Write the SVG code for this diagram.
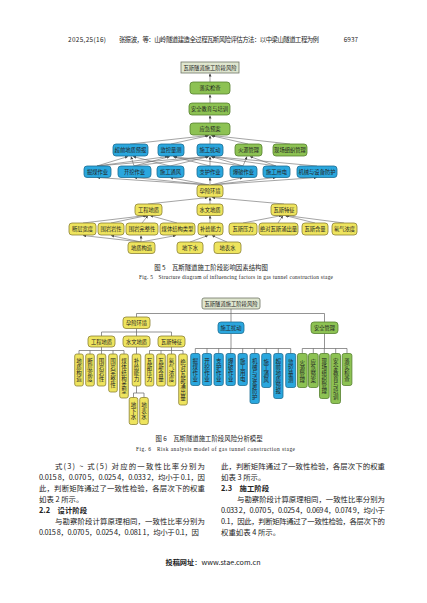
<svg xmlns="http://www.w3.org/2000/svg" width="427" height="603" viewBox="0 0 427 603">
<style>
text{font-family:"Noto Sans CJK SC","Liberation Serif",serif;fill:#222}
.n text{font-size:5.3px;text-anchor:middle;dominant-baseline:central}
.v text{font-size:5.5px;letter-spacing:0.5px}
.b{fill:#2aa7de;stroke:#1d6d92;stroke-width:0.8}
.g{fill:#8dc253;stroke:#56802e;stroke-width:0.8}
.y{fill:#eee45e;stroke:#8c8235;stroke-width:0.8}
.t{fill:#dfe6cf;stroke:#6f7566;stroke-width:0.8}
.e line{stroke:#666;stroke-width:0.6;marker-end:url(#a)}
.tr line{stroke:#666;stroke-width:0.7}
.body{font-size:7.4px;fill:#333}
.hd{font-size:6.4px}
.cap{font-size:6.4px}
.en{font-family:"Liberation Serif",serif;font-size:5.4px}
</style>
<defs>
<marker id="a" viewBox="0 0 6 6" refX="6" refY="3" markerWidth="3" markerHeight="3" orient="auto" markerUnits="userSpaceOnUse"><path d="M0,0L6,3L0,6z" fill="#444"/></marker>
</defs>
<rect width="427" height="603" fill="#fff"/>

<!-- header -->
<g id="header" class="hd">
<text x="68" y="42" textLength="38" font-family="Liberation Serif, serif">2025,25(16)</text>
<text x="119" y="42" textLength="200">张振波，等：山岭隧道建造全过程瓦斯风险评估方法：以中梁山隧道工程为例</text>
<text x="358" y="42" text-anchor="end" font-family="Liberation Serif, serif">6937</text>
</g>

<!-- FIGURE 5 connectors -->
<g id="fig5-edges" class="e">
<line x1="210" y1="82" x2="210" y2="73.5"/>
<line x1="210" y1="103" x2="210" y2="94.5"/>
<line x1="210" y1="123" x2="210" y2="115.5"/>
<line x1="130" y1="144" x2="208" y2="135.5"/>
<line x1="171" y1="144" x2="209" y2="135.5"/>
<line x1="210" y1="144" x2="210" y2="135.5"/>
<line x1="248" y1="144" x2="211" y2="135.5"/>
<line x1="290" y1="144" x2="212" y2="135.5"/>
<line x1="97" y1="166" x2="208" y2="156.5"/>
<line x1="134" y1="166" x2="209" y2="156.5"/>
<line x1="170" y1="166" x2="209" y2="156.5"/>
<line x1="210" y1="166" x2="210" y2="156.5"/>
<line x1="243" y1="166" x2="211" y2="156.5"/>
<line x1="276" y1="166" x2="211" y2="156.5"/>
<line x1="317" y1="166" x2="212" y2="156.5"/>
<line x1="97" y1="166" x2="128" y2="156.5"/>
<line x1="134" y1="166" x2="131" y2="156.5"/>
<line x1="170" y1="166" x2="133" y2="156.5"/>
<line x1="97" y1="166" x2="168" y2="156.5"/>
<line x1="134" y1="166" x2="170" y2="156.5"/>
<line x1="210" y1="166" x2="173" y2="156.5"/>
<line x1="243" y1="166" x2="174" y2="156.5"/>
<line x1="243" y1="166" x2="247" y2="156.5"/>
<line x1="276" y1="166" x2="250" y2="156.5"/>
<line x1="209" y1="185" x2="97" y2="177.5"/>
<line x1="209" y1="185" x2="134" y2="177.5"/>
<line x1="209.5" y1="185" x2="170" y2="177.5"/>
<line x1="210" y1="185" x2="210" y2="177.5"/>
<line x1="210.5" y1="185" x2="243" y2="177.5"/>
<line x1="211" y1="185" x2="276" y2="177.5"/>
<line x1="211" y1="185" x2="317" y2="177.5"/>
<line x1="148" y1="204" x2="208" y2="197.5"/>
<line x1="210" y1="204" x2="210" y2="197.5"/>
<line x1="284" y1="204" x2="212" y2="197.5"/>
<line x1="83" y1="223" x2="146" y2="215.5"/>
<line x1="111" y1="223" x2="147" y2="215.5"/>
<line x1="142" y1="223" x2="148" y2="215.5"/>
<line x1="177" y1="223" x2="150" y2="215.5"/>
<line x1="210" y1="223" x2="210" y2="215.5"/>
<line x1="243" y1="223" x2="282" y2="215.5"/>
<line x1="278" y1="223" x2="283" y2="215.5"/>
<line x1="315" y1="223" x2="285" y2="215.5"/>
<line x1="344" y1="223" x2="286" y2="215.5"/>
<line x1="141" y1="242" x2="83" y2="235.5"/>
<line x1="141" y1="242" x2="111" y2="235.5"/>
<line x1="141" y1="242" x2="141" y2="235.5"/>
<line x1="141" y1="242" x2="176" y2="235.5"/>
<line x1="190" y1="242" x2="208" y2="235.5"/>
<line x1="227" y1="242" x2="212" y2="235.5"/>
</g>

<!-- FIGURE 5 nodes -->
<g id="f5-root" class="n"><rect class="t" x="181" y="62" width="58" height="11"/><text x="210" y="67.5">瓦斯隧道施工阶段风险</text></g>
<g id="f5-check" class="n"><rect class="g" x="190" y="82" width="40" height="12" rx="3"/><text x="210" y="88">落实检查</text></g>
<g id="f5-edu" class="n"><rect class="g" x="189" y="103" width="41" height="12" rx="3"/><text x="209.5" y="109">安全教育与培训</text></g>
<g id="f5-plan" class="n"><rect class="g" x="190" y="123" width="40" height="12" rx="3"/><text x="210" y="129">应急预案</text></g>

<g id="f5-forecast" class="n"><rect class="b" x="113" y="144" width="35" height="12" rx="3"/><text x="130.5" y="150">超前地质预报</text></g>
<g id="f5-monitor" class="n"><rect class="b" x="158" y="144" width="26" height="12" rx="3"/><text x="171" y="150">监控量测</text></g>
<g id="f5-disturb" class="n"><rect class="b" x="197" y="144" width="26" height="12" rx="3"/><text x="210" y="150">施工扰动</text></g>
<g id="f5-fire" class="n"><rect class="g" x="235" y="144" width="27" height="12" rx="3"/><text x="248.5" y="150">火源管理</text></g>
<g id="f5-site" class="n"><rect class="g" x="273" y="144" width="34" height="12" rx="3"/><text x="290" y="150">现场组织管理</text></g>

<g id="f5-coal" class="n"><rect class="b" x="84" y="166" width="27" height="11.5" rx="3"/><text x="97.5" y="171.8">掘煤作业</text></g>
<g id="f5-dig" class="n"><rect class="b" x="118" y="166" width="33" height="11.5" rx="3"/><text x="134.5" y="171.8">开挖作业</text></g>
<g id="f5-vent" class="n"><rect class="b" x="157" y="166" width="27" height="11.5" rx="3"/><text x="170.5" y="171.8">施工通风</text></g>
<g id="f5-support" class="n"><rect class="b" x="197" y="166" width="26" height="11.5" rx="3"/><text x="210" y="171.8">支护作业</text></g>
<g id="f5-blast" class="n"><rect class="b" x="230" y="166" width="27" height="11.5" rx="3"/><text x="243.5" y="171.8">爆破作业</text></g>
<g id="f5-power" class="n"><rect class="b" x="263" y="166" width="27" height="11.5" rx="3"/><text x="276.5" y="171.8">施工用电</text></g>
<g id="f5-mech" class="n"><rect class="b" x="297" y="166" width="40" height="11.5" rx="3"/><text x="317" y="171.8">机械与设备防护</text></g>

<g id="f5-env" class="n"><rect class="y" x="197" y="185" width="26" height="12" rx="3"/><text x="210" y="191">孕险环境</text></g>

<g id="f5-geo" class="n"><rect class="y" x="135" y="204" width="27" height="11.5" rx="3"/><text x="148.5" y="209.8">工程地质</text></g>
<g id="f5-hydro" class="n"><rect class="y" x="197" y="204" width="26" height="11.5" rx="3"/><text x="210" y="209.8">水文地质</text></g>
<g id="f5-gas" class="n"><rect class="y" x="271" y="204" width="26" height="11.5" rx="3"/><text x="284" y="209.8">瓦斯特征</text></g>

<g id="f5-fault" class="n"><rect class="y" x="69" y="223" width="27" height="12" rx="3"/><text x="82.5" y="229">断层宽度</text></g>
<g id="f5-litho" class="n"><rect class="y" x="98" y="223" width="26" height="12" rx="3"/><text x="111" y="229">围岩岩性</text></g>
<g id="f5-integ" class="n"><rect class="y" x="126" y="223" width="32" height="12" rx="3"/><text x="142" y="229">围岩完整性</text></g>
<g id="f5-coaltype" class="n"><rect class="y" x="160" y="223" width="35" height="12" rx="3"/><text x="177.5" y="229">煤体结构类型</text></g>
<g id="f5-recharge" class="n"><rect class="y" x="198" y="223" width="25" height="12" rx="3"/><text x="210.5" y="229">补给能力</text></g>
<g id="f5-press" class="n"><rect class="y" x="229" y="223" width="28" height="12" rx="3"/><text x="243" y="229">瓦斯压力</text></g>
<g id="f5-emis" class="n"><rect class="y" x="259" y="223" width="39" height="12" rx="3"/><text x="278.5" y="229">绝对瓦斯涌出量</text></g>
<g id="f5-content" class="n"><rect class="y" x="302" y="223" width="26" height="12" rx="3"/><text x="315" y="229">瓦斯含量</text></g>
<g id="f5-radon" class="n"><rect class="y" x="332" y="223" width="25" height="12" rx="3"/><text x="344.5" y="229">氡气浓度</text></g>

<g id="f5-struct" class="n"><rect class="y" x="128" y="242" width="27" height="11.5" rx="3"/><text x="141.5" y="247.8">地质构造</text></g>
<g id="f5-ground" class="n"><rect class="y" x="177" y="242" width="26" height="11.5" rx="3"/><text x="190" y="247.8">地下水</text></g>
<g id="f5-surf" class="n"><rect class="y" x="214" y="242" width="27" height="11.5" rx="3"/><text x="227.5" y="247.8">地表水</text></g>

<g id="cap5">
<text class="cap" x="211" y="270" text-anchor="middle">图 5　瓦斯隧道施工阶段影响因素结构图</text>
<text class="en" x="139" y="279" textLength="194">Fig. 5　Structure diagram of influencing factors in gas tunnel construction stage</text>
</g>

<!-- FIGURE 6 connectors -->
<g id="fig6-edges" class="tr">
<line x1="231" y1="309" x2="231" y2="313.5"/>
<line x1="136.5" y1="313.5" x2="324.5" y2="313.5"/>
<line x1="136.5" y1="313.5" x2="136.5" y2="317"/>
<line x1="231" y1="313.5" x2="231" y2="322"/>
<line x1="324.5" y1="313.5" x2="324.5" y2="322"/>
<line x1="136.5" y1="328.5" x2="136.5" y2="332"/>
<line x1="101.5" y1="332" x2="171.5" y2="332"/>
<line x1="101.5" y1="332" x2="101.5" y2="336"/>
<line x1="136.5" y1="332" x2="136.5" y2="336"/>
<line x1="171.5" y1="332" x2="171.5" y2="336"/>
<line x1="101.5" y1="347" x2="101.5" y2="350.5"/>
<line x1="79" y1="350.5" x2="124" y2="350.5"/>
<line x1="79" y1="350.5" x2="79" y2="354"/>
<line x1="90" y1="350.5" x2="90" y2="354"/>
<line x1="101.5" y1="350.5" x2="101.5" y2="354"/>
<line x1="113" y1="350.5" x2="113" y2="354"/>
<line x1="124" y1="350.5" x2="124" y2="354"/>
<line x1="136.5" y1="347" x2="136.5" y2="354"/>
<line x1="136.5" y1="386" x2="136.5" y2="393"/>
<line x1="133.5" y1="393" x2="144" y2="393"/>
<line x1="133.5" y1="393" x2="133.5" y2="397.5"/>
<line x1="144" y1="393" x2="144" y2="397.5"/>
<line x1="171.5" y1="347" x2="171.5" y2="350.5"/>
<line x1="149.5" y1="350.5" x2="183" y2="350.5"/>
<line x1="149.5" y1="350.5" x2="149.5" y2="354"/>
<line x1="161" y1="350.5" x2="161" y2="354"/>
<line x1="171.5" y1="350.5" x2="171.5" y2="354"/>
<line x1="183" y1="350.5" x2="183" y2="354"/>
<line x1="231" y1="333.5" x2="231" y2="348.5"/>
<line x1="195.3" y1="348.5" x2="290.7" y2="348.5"/>
<line x1="195.3" y1="348.5" x2="195.3" y2="353.5"/>
<line x1="207" y1="348.5" x2="207" y2="353.5"/>
<line x1="218.7" y1="348.5" x2="218.7" y2="353.5"/>
<line x1="230.7" y1="348.5" x2="230.7" y2="353.5"/>
<line x1="242.7" y1="348.5" x2="242.7" y2="353.5"/>
<line x1="254.7" y1="348.5" x2="254.7" y2="353.5"/>
<line x1="266.3" y1="348.5" x2="266.3" y2="353.5"/>
<line x1="278.3" y1="348.5" x2="278.3" y2="353.5"/>
<line x1="290.7" y1="348.5" x2="290.7" y2="353.5"/>
<line x1="324.5" y1="333.5" x2="324.5" y2="348.5"/>
<line x1="302.3" y1="348.5" x2="347" y2="348.5"/>
<line x1="302.3" y1="348.5" x2="302.3" y2="353.5"/>
<line x1="313.3" y1="348.5" x2="313.3" y2="353.5"/>
<line x1="324.3" y1="348.5" x2="324.3" y2="353.5"/>
<line x1="335.7" y1="348.5" x2="335.7" y2="353.5"/>
<line x1="347" y1="348.5" x2="347" y2="353.5"/>
</g>

<!-- FIGURE 6 nodes -->
<g id="f6-root" class="n"><rect class="t" x="202" y="298" width="58" height="11" rx="2"/><text x="231" y="303.5">瓦斯隧道施工阶段风险</text></g>
<g id="f6-env" class="n"><rect class="y" x="123" y="317" width="27" height="11.5" rx="3"/><text x="136.5" y="322.8">孕险环境</text></g>
<g id="f6-disturb" class="n"><rect class="b" x="218" y="322" width="26" height="11.5" rx="3"/><text x="231" y="327.8">施工扰动</text></g>
<g id="f6-mgmt" class="n"><rect class="g" x="311" y="322" width="27" height="11.5" rx="3"/><text x="324.5" y="327.8">安全管理</text></g>
<g id="f6-geo" class="n"><rect class="y" x="88" y="336" width="27" height="11" rx="3"/><text x="101.5" y="341.5">工程地质</text></g>
<g id="f6-hydro" class="n"><rect class="y" x="123" y="336" width="27" height="11" rx="3"/><text x="136.5" y="341.5">水文地质</text></g>
<g id="f6-gas" class="n"><rect class="y" x="158" y="336" width="27" height="11" rx="3"/><text x="171.5" y="341.5">瓦斯特征</text></g>

<g class="v">
<g id="f6-struct"><rect class="y" x="74.7" y="354" width="8.6" height="32" rx="2"/><text transform="translate(76.25,363.1) rotate(90)" rotate="-90">地质构造</text></g>
<g id="f6-fault"><rect class="y" x="85.7" y="354" width="8.6" height="32" rx="2"/><text transform="translate(87.25,363.1) rotate(90)" rotate="-90">断层宽度</text></g>
<g id="f6-litho"><rect class="y" x="97.2" y="354" width="8.6" height="32" rx="2"/><text transform="translate(98.75,363.1) rotate(90)" rotate="-90">围岩岩性</text></g>
<g id="f6-integ"><rect class="y" x="108.7" y="354" width="8.6" height="38" rx="2"/><text transform="translate(110.25,363.1) rotate(90)" rotate="-90">围岩完整性</text></g>
<g id="f6-coaltype"><rect class="y" x="119.7" y="354" width="8.6" height="44" rx="2"/><text transform="translate(121.25,363.1) rotate(90)" rotate="-90">煤体结构类型</text></g>
<g id="f6-recharge"><rect class="y" x="132.2" y="354" width="8.6" height="32" rx="2"/><text transform="translate(133.75,363.1) rotate(90)" rotate="-90">补给能力</text></g>
<g id="f6-ground"><rect class="y" x="129.2" y="397.5" width="8.6" height="27" rx="2"/><text transform="translate(130.75,407.1) rotate(90)" rotate="-90">地下水</text></g>
<g id="f6-surf"><rect class="y" x="139.7" y="397.5" width="8.6" height="27" rx="2"/><text transform="translate(141.25,407.1) rotate(90)" rotate="-90">地表水</text></g>
<g id="f6-press"><rect class="y" x="145.2" y="354" width="8.6" height="32" rx="2"/><text transform="translate(146.75,363.1) rotate(90)" rotate="-90">瓦斯压力</text></g>
<g id="f6-content"><rect class="y" x="156.7" y="354" width="8.6" height="32" rx="2"/><text transform="translate(158.25,363.1) rotate(90)" rotate="-90">瓦斯含量</text></g>
<g id="f6-radon"><rect class="y" x="167.2" y="354" width="8.6" height="32" rx="2"/><text transform="translate(168.75,363.1) rotate(90)" rotate="-90">氡气浓度</text></g>
<g id="f6-emis"><rect class="y" x="178.7" y="354" width="8.6" height="51" rx="2"/><text transform="translate(180.25,363.6) rotate(90)" rotate="-90">绝对瓦斯涌出量</text></g>

<g id="f6-coal"><rect class="b" x="190.7" y="353.5" width="9.3" height="32" rx="2"/><text transform="translate(192.55,362.6) rotate(90)" rotate="-90">掘煤作业</text></g>
<g id="f6-dig"><rect class="b" x="202.3" y="353.5" width="9.3" height="32" rx="2"/><text transform="translate(204.25,362.6) rotate(90)" rotate="-90">开挖作业</text></g>
<g id="f6-support"><rect class="b" x="214" y="353.5" width="9.3" height="32" rx="2"/><text transform="translate(215.95,362.6) rotate(90)" rotate="-90">支护作业</text></g>
<g id="f6-blast"><rect class="b" x="226" y="353.5" width="9.3" height="32" rx="2"/><text transform="translate(227.95,362.6) rotate(90)" rotate="-90">爆破作业</text></g>
<g id="f6-power"><rect class="b" x="238" y="353.5" width="9.3" height="32" rx="2"/><text transform="translate(239.95,362.6) rotate(90)" rotate="-90">施工用电</text></g>
<g id="f6-mech"><rect class="b" x="250" y="353.5" width="9.3" height="50" rx="2"/><text transform="translate(251.95,362.6) rotate(90)" rotate="-90">机械与设备防护</text></g>
<g id="f6-vent"><rect class="b" x="261.7" y="353.5" width="9.3" height="34" rx="2"/><text transform="translate(263.55,363.6) rotate(90)" rotate="-90">施工通风</text></g>
<g id="f6-forecast"><rect class="b" x="273.7" y="353.5" width="9.3" height="45" rx="2"/><text transform="translate(275.55,363.1) rotate(90)" rotate="-90">超前地质预报</text></g>
<g id="f6-monitor"><rect class="b" x="285.7" y="353.5" width="10" height="34" rx="2"/><text transform="translate(287.95,363.6) rotate(90)" rotate="-90">监控量测</text></g>

<g id="f6-fire"><rect class="g" x="297.5" y="353.5" width="9.7" height="34" rx="2"/><text transform="translate(299.55,363.6) rotate(90)" rotate="-90">火源管理</text></g>
<g id="f6-plan"><rect class="g" x="308.5" y="353.5" width="9.7" height="34" rx="2"/><text transform="translate(310.55,363.6) rotate(90)" rotate="-90">应急预案</text></g>
<g id="f6-site"><rect class="g" x="319.5" y="353.5" width="9.7" height="45" rx="2"/><text transform="translate(321.55,363.1) rotate(90)" rotate="-90">现场组织管理</text></g>
<g id="f6-edu"><rect class="g" x="330.8" y="353.5" width="9.7" height="50" rx="2"/><text transform="translate(332.95,362.6) rotate(90)" rotate="-90">安全教育与培训</text></g>
<g id="f6-check"><rect class="g" x="342.2" y="353.5" width="9.7" height="32" rx="2"/><text transform="translate(344.25,362.6) rotate(90)" rotate="-90">落实检查</text></g>
</g>

<g id="cap6">
<text class="cap" x="209" y="440.5" text-anchor="middle">图 6　瓦斯隧道施工阶段风险分析模型</text>
<text class="en" x="136" y="450.5" textLength="159">Fig. 6　Risk analysis model of gas tunnel construction stage</text>
</g>

<!-- body text -->
<g id="body" class="body">
<text x="55" y="469" textLength="150">式(3) ~ 式(5) 对应的一致性比率分别为</text>
<text x="39" y="480" textLength="166">0.015 8，0.070 5，0.025 4，0.033 2，均小于 0.1，因</text>
<text x="39" y="491" textLength="166">此，判断矩阵通过了一致性检验，各层次下的权重</text>
<text x="39" y="502">如表 2 所示。</text>
<text x="39" y="513" font-weight="bold">2.2　设计阶段</text>
<text x="55" y="524" textLength="150">与勘察阶段计算原理相同，一致性比率分别为</text>
<text x="39" y="535" textLength="160">0.015 8，0.070 5，0.025 4，0.081 1，均小于 0.1，因</text>

<text x="221" y="469" textLength="164">此，判断矩阵通过了一致性检验，各层次下的权重</text>
<text x="221" y="480">如表 3 所示。</text>
<text x="221" y="491" font-weight="bold">2.3　施工阶段</text>
<text x="237" y="502" textLength="148">与勘察阶段计算原理相同，一致性比率分别为</text>
<text x="221" y="513" textLength="164">0.033 2，0.070 5，0.025 4，0.069 4，0.074 9，均小于</text>
<text x="221" y="524" textLength="164">0.1，因此，判断矩阵通过了一致性检验，各层次下的</text>
<text x="221" y="535">权重如表 4 所示。</text>
</g>

<g id="footer">
<text x="213" y="565" text-anchor="middle" font-size="7.2px"><tspan font-weight="bold">投稿网址</tspan>：www.stae.com.cn</text>
</g>
</svg>
